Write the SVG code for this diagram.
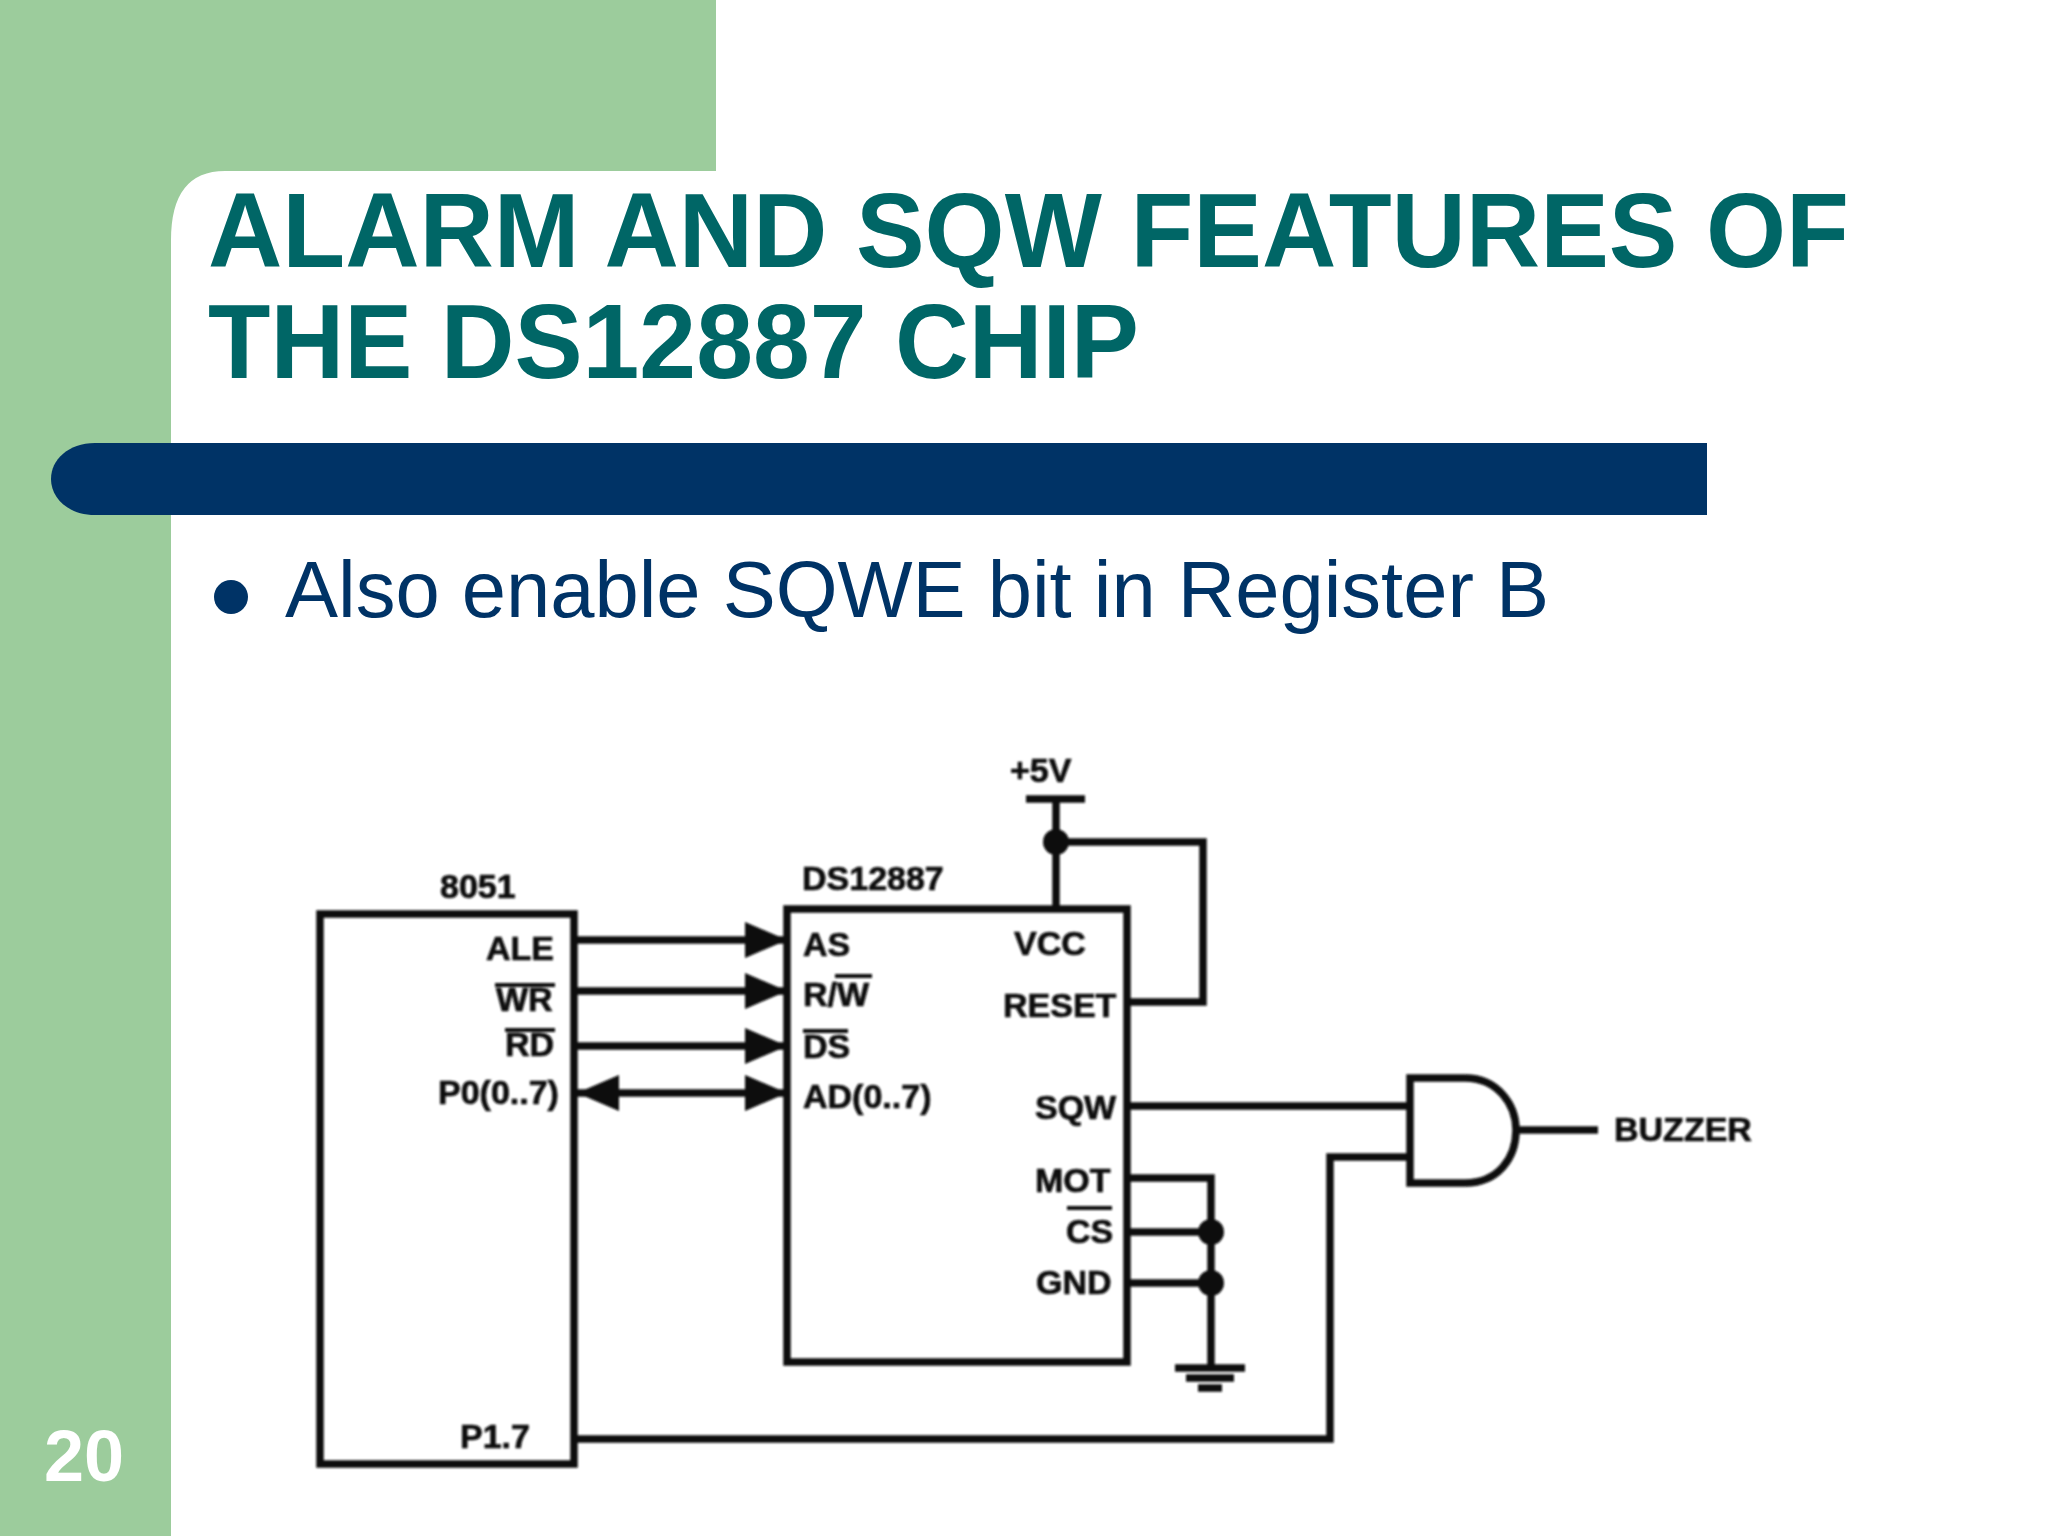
<svg xmlns="http://www.w3.org/2000/svg" width="2048" height="1536" viewBox="0 0 2048 1536">
<defs>
<style>
.t{font-family:"Liberation Sans",Arial,sans-serif;font-weight:700;font-size:105px;fill:#006666}
.b{font-family:"Liberation Sans",Arial,sans-serif;font-size:79px;fill:#003366}
.l{font-family:"Liberation Sans",Arial,sans-serif;font-weight:700;font-size:34px;fill:#111;stroke:#111;stroke-width:.7}
.w{fill:none;stroke:#0a0a0a;stroke-width:7.5}
.n{fill:#0a0a0a}
.ol{stroke:#111;stroke-width:4}
</style>
<marker id="ah" markerUnits="userSpaceOnUse" markerWidth="44" markerHeight="36" refX="42" refY="18" orient="auto-start-reverse"><path d="M0 0L42 18L0 36Z" fill="#0a0a0a"/></marker>
<filter id="soft"><feGaussianBlur stdDeviation="0.8"/></filter>
</defs>
<rect width="2048" height="1536" fill="#fff"/>
<g id="background">
<path d="M0 0H716V171H225Q171 171 171 240V1536H0Z" fill="#9ccc9c"/>
<path d="M95 443H1707V515H95C68 515 51 498 51 479C51 460 68 443 95 443Z" fill="#003366"/>
<text x="44" y="1481" style="font-family:'Liberation Sans',sans-serif;font-weight:700;font-size:72px;fill:#fff">20</text>
</g>
<g id="title">
<text class="t" x="208" y="267" textLength="1641" lengthAdjust="spacingAndGlyphs">ALARM AND SQW FEATURES OF</text>
<text class="t" x="208" y="378" textLength="931" lengthAdjust="spacingAndGlyphs">THE DS12887 CHIP</text>
</g>
<g id="bullet">
<circle cx="231" cy="597" r="17" fill="#003366"/>
<text class="b" x="285" y="617" textLength="1264" lengthAdjust="spacingAndGlyphs">Also enable SQWE bit in Register B</text>
</g>
<g filter="url(#soft)">
<g id="connectors">
<path class="w" d="M575 940H787" marker-end="url(#ah)"/>
<path class="w" d="M575 991H787" marker-end="url(#ah)"/>
<path class="w" d="M575 1046H787" marker-end="url(#ah)"/>
<path class="w" d="M577 1093H787" marker-start="url(#ah)" marker-end="url(#ah)"/>
<path class="w" d="M1056 799V909"/>
<path class="w" d="M1056 842H1203V1002H1127"/>
<path class="w" d="M1127 1106H1410"/>
<path class="w" d="M1410 1157H1330V1439H575"/>
<path class="w" d="M1127 1178H1211V1368"/>
<path class="w" d="M1127 1232H1211"/>
<path class="w" d="M1127 1283H1211"/>
<path class="w" d="M1516 1130H1598"/>
</g>
<g id="n-8051">
<rect class="w" x="320" y="914" width="254" height="550"/>
<text class="l" x="440" y="898">8051</text>
<text class="l" x="486" y="960">ALE</text>
<text class="l" x="496" y="1011">WR</text><path class="ol" d="M495 985H555"/>
<text class="l" x="505" y="1056">RD</text><path class="ol" d="M505 1030H555"/>
<text class="l" x="438" y="1104">P0(0..7)</text>
<text class="l" x="460" y="1448">P1.7</text>
</g>
<g id="n-ds12887">
<rect class="w" x="787" y="909" width="340" height="453"/>
<text class="l" x="802" y="890">DS12887</text>
<text class="l" x="803" y="956">AS</text>
<text class="l" x="803" y="1006">R/W</text><path class="ol" d="M835 976H872"/>
<text class="l" x="803" y="1058">DS</text><path class="ol" d="M803 1031H848"/>
<text class="l" x="803" y="1108">AD(0..7)</text>
<text class="l" x="1014" y="955">VCC</text>
<text class="l" x="1003" y="1017">RESET</text>
<text class="l" x="1035" y="1119">SQW</text>
<text class="l" x="1035" y="1192">MOT</text>
<text class="l" x="1066" y="1243">CS</text><path class="ol" d="M1067 1208H1112"/>
<text class="l" x="1036" y="1294">GND</text>
</g>
<g id="n-power">
<text class="l" x="1010" y="782">+5V</text>
<path class="w" d="M1026 799H1085"/>
<circle class="n" cx="1056" cy="842" r="13"/>
</g>
<g id="n-junctions">
<circle class="n" cx="1211" cy="1232" r="13"/>
<circle class="n" cx="1211" cy="1283" r="13"/>
</g>
<g id="n-ground">
<path class="w" d="M1175 1368H1245M1186 1378H1234M1198 1388H1222"/>
</g>
<g id="n-and">
<path class="w" d="M1410 1078H1465C1498 1078 1516 1105 1516 1130C1516 1158 1498 1183 1465 1183H1410Z"/>
</g>
<text class="l" id="n-buzzer" x="1614" y="1141">BUZZER</text>
</g>
</svg>
